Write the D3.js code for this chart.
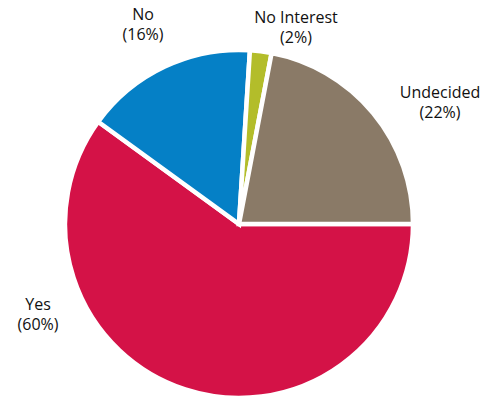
<!DOCTYPE html>
<html>
<head>
<meta charset="utf-8">
<script src="https://cdn.jsdelivr.net/npm/d3@7"></script>
<style>
  body { margin: 0; background: #fff; }
  text { font-family: "Open Sans", sans-serif; font-size: 16px; fill: #111; }
</style>
</head>
<body>
<div id="chart"></div>
<script>
const categories = ["Yes", "No", "No Interest", "Undecided"];
const values = [60, 16, 2, 22];
const colors = ["#d41247", "#0580c6", "#b3bd2a", "#8a7a67"];

const FRAME_WIDTH = 487;
const FRAME_HEIGHT = 396;
const CX = 239, CY = 224, R = 174;

// where each label sits (hand placed like the original)
const LABEL_POS = {
  "Yes": [38, 310],
  "No": [143, 20],
  "No Interest": [296, 23],
  "Undecided": [440, 98]
};

const svg = d3.select("#chart")
  .append("svg")
    .attr("width", FRAME_WIDTH)
    .attr("height", FRAME_HEIGHT);

const data = categories.map((c, i) => ({ name: c, value: values[i], color: colors[i] }));

// start Yes at 3 o'clock and go clockwise
const pie = d3.pie()
  .sort(null)
  .value(d => d.value)
  .startAngle(Math.PI / 2)
  .endAngle(Math.PI / 2 + 2 * Math.PI);

const arc = d3.arc().innerRadius(0).outerRadius(R);

const g = svg.append("g")
  .attr("transform", "translate(" + CX + "," + CY + ")");

g.selectAll("path")
  .data(pie(data))
  .enter()
  .append("path")
    .attr("d", arc)
    .attr("fill", d => d.data.color)
    .attr("stroke", "#fff")
    .attr("stroke-width", 4.5)
    .attr("stroke-linejoin", "miter");

// labels
const labels = svg.append("g")
  .selectAll("text")
  .data(data)
  .enter()
  .append("text")
    .attr("text-anchor", "middle")
    .attr("x", d => LABEL_POS[d.name][0])
    .attr("y", d => LABEL_POS[d.name][1]);

labels.append("tspan")
  .attr("x", d => LABEL_POS[d.name][0])
  .text(d => d.name);

labels.append("tspan")
  .attr("x", d => LABEL_POS[d.name][0])
  .attr("dy", 20)
  .text(d => "(" + d.value + "%)");
</script>
</body>
</html>
